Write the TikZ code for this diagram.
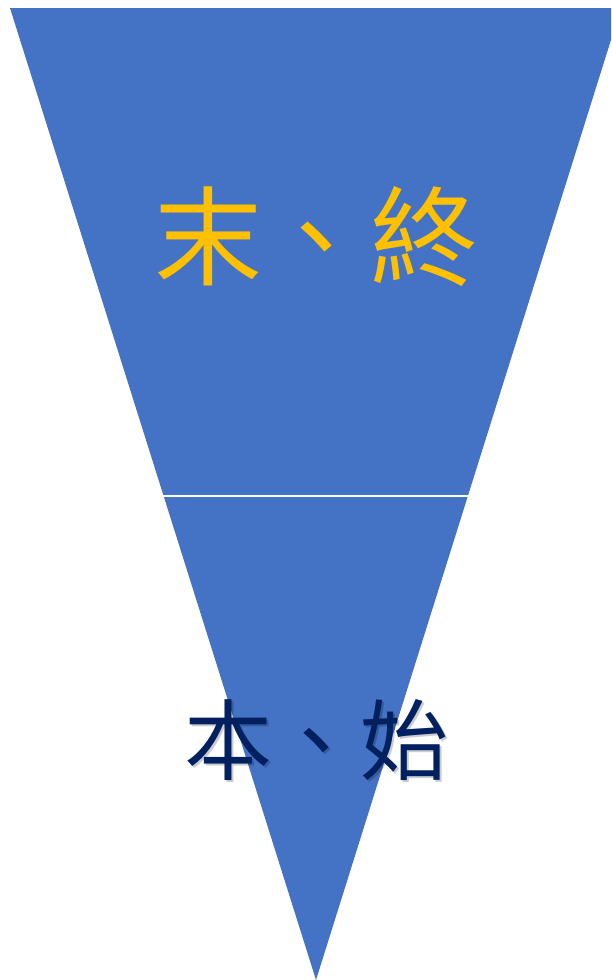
\documentclass[tikz,border=0pt]{standalone}
\usepackage{fontspec}
\newfontfamily\cjk{Noto Sans CJK TC}
\definecolor{tri}{HTML}{4472C4}
\definecolor{gold}{HTML}{FFC000}
\definecolor{navy}{HTML}{002060}
\begin{document}
\begin{tikzpicture}[x=1pt,y=-1pt,
  lbl/.style={inner sep=0pt,font=\cjk\fontsize{#1}{#1}\selectfont}]
\useasboundingbox (0,0) rectangle (611,980);
\clip (0,0) rectangle (611,980);
\coordinate (tl) at (10,8);
\coordinate (tr) at (621,8);
\coordinate (ap) at (316,980);
\fill[tri] (tl) -- (tr) -- (ap) -- cycle;
\coordinate (sl) at (163,495.5);
\coordinate (sr) at (469,495.5);
\draw[white,line width=2pt] (sl) -- (sr);
\node[lbl=108,text=gold] (top) at (316,237) {末、終};
\node[lbl=88,text=black,opacity=0.2] (shadow) at (318.5,742.5) {本、始};
\node[lbl=88,text=navy] (bottom) at (316,740) {本、始};
\end{tikzpicture}
\end{document}
